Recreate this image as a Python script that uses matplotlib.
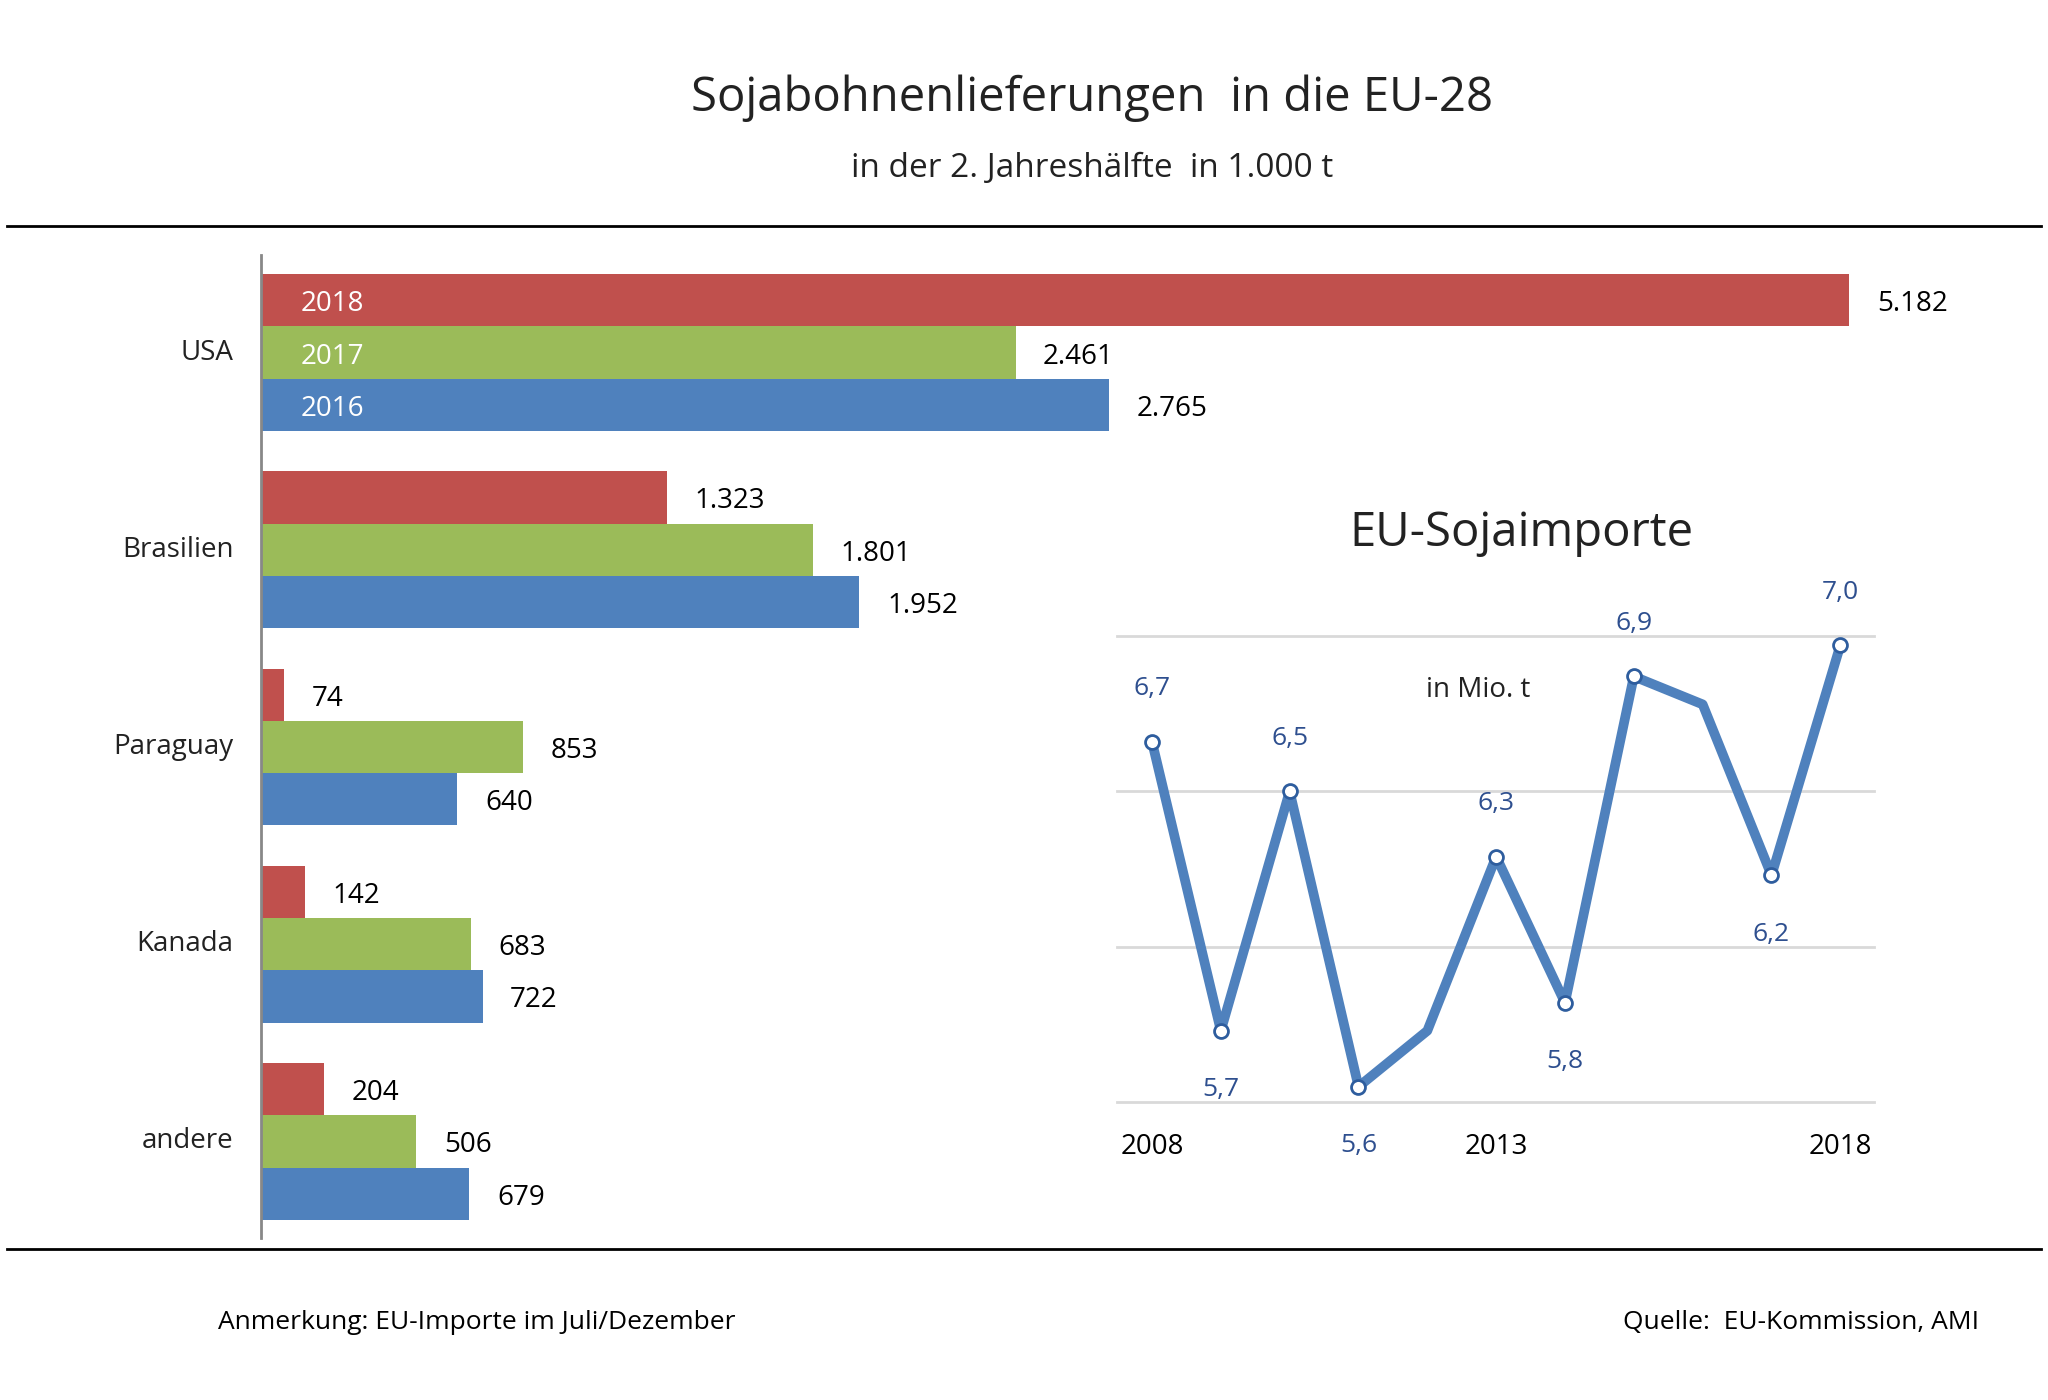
import matplotlib.pyplot as plt
from matplotlib.lines import Line2D

plt.rcParams['font.family'] = ['Open Sans', 'DejaVu Sans']

countries = ["USA", "Brasilien", "Paraguay", "Kanada", "andere"]
v2018 = [5182, 1323, 74, 142, 204]
v2017 = [2461, 1801, 853, 683, 506]
v2016 = [2765, 1952, 640, 722, 679]

years = list(range(2008, 2019))
imports = [6.71, 5.78, 6.55, 5.6, 5.78, 6.34, 5.87, 6.92, 6.83, 6.28, 7.02]
labeled = {2008: "6,7", 2009: "5,7", 2010: "6,5", 2011: "5,6", 2013: "6,3",
           2014: "5,8", 2015: "6,9", 2017: "6,2", 2018: "7,0"}
below = {2009, 2011, 2014, 2017}

W, H = 1568, 1072  # layout reference units
fig = plt.figure(figsize=(20.48, 14), dpi=100)

def fx(x): return x / W
def fy(y): return 1 - y / H

def de(v):
    return f"{v:,}".replace(",", ".")

fig.text(fx(836), fy(75), "Sojabohnenlieferungen  in die EU-28", ha="center", va="center", fontsize=34, color="#222222")
fig.text(fx(836), fy(129), "in der 2. Jahreshälfte  in 1.000 t", ha="center", va="center", fontsize=24, color="#222222")
for yy in (173, 956):
    fig.add_artist(Line2D([fx(5), fx(1563)], [fy(yy), fy(yy)], color="black", lw=2))
fig.text(fx(167), fy(1013), "Anmerkung: EU-Importe im Juli/Dezember", ha="left", va="center", fontsize=19)
fig.text(fx(1515), fy(1013), "Quelle:  EU-Kommission, AMI", ha="right", va="center", fontsize=19)

# bar chart, y in layout units
ax = fig.add_axes([fx(200), fy(948), 1 - fx(200), (948 - 195) / H])
ax.set_ylim(948, 195)
ax.set_xlim(0, 5182 * (W - 200) / 1216)
cols = {"2018": "#c0504d", "2017": "#9bbb59", "2016": "#4f81bd"}
for i, c in enumerate(countries):
    yc = 270 + 151 * i
    for off, yr, vals in ((-40, "2018", v2018), (0, "2017", v2017), (40, "2016", v2016)):
        v = vals[i]
        ax.barh(yc + off, v, height=40, color=cols[yr])
        ax.text(v + 90, yc + off + 3, de(v), va="center", ha="left", fontsize=20, color="black")
        if i == 0:
            ax.text(130, yc + off + 3, yr, va="center", ha="left", fontsize=20, color="white")
    ax.text(-90, yc, c, ha="right", va="center", fontsize=20, color="#222222")
for s in ("top", "right", "bottom"):
    ax.spines[s].set_visible(False)
ax.spines["left"].set_color("#888888")
ax.spines["left"].set_linewidth(2)
ax.set_xticks([]); ax.set_yticks([])

# inset line chart
lx = fig.add_axes([fx(855), fy(844), 580 / W, (844 - 487) / H])
lx.set_xlim(2008 - 27 / 52.7, 2018 + 26 / 52.7)
lx.set_ylim(5.55, 7.05)
for g in (5.55, 6.05, 6.55, 7.05):
    lx.axhline(g, color="#d9d9d9", lw=2, clip_on=False)
lx.plot(years, imports, color="#4f81bd", lw=7, solid_joinstyle="round", clip_on=False, zorder=3)
for x, y in zip(years, imports):
    if x in labeled:
        lx.plot(x, y, "o", ms=10, mfc="white", mec="#2e5d9e", mew=2, clip_on=False, zorder=4)
        dy = -0.19 if x in below else 0.17
        lx.text(x, y + dy, labeled[x], ha="center", va="center", fontsize=19, color="#2e4f8f")
for s in lx.spines.values():
    s.set_visible(False)
lx.set_yticks([])
lx.set_xticks([2008, 2013, 2018])
lx.set_xticklabels(["2008", "2013", "2018"], fontsize=20)
lx.tick_params(length=0, pad=22)
fig.text(fx(1165), fy(408), "EU-Sojaimporte", ha="center", va="center", fontsize=34, color="#222222")
fig.text(fx(1132), fy(528), "in Mio. t", ha="center", va="center", fontsize=20, color="#222222")

fig.savefig("out.png", dpi=100, facecolor="white")
